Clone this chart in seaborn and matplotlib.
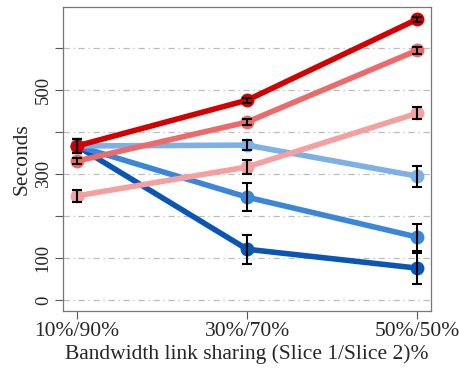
import numpy as np
import pandas as pd
import matplotlib
matplotlib.use("Agg")
import matplotlib.pyplot as plt
import seaborn as sns

# Data
shares = ["10%/90%", "30%/70%", "50%/50%"]
series = ["blue_dark", "blue_mid", "blue_light", "red_light", "red_mid", "red_dark"]
blue_dark = [367, 121, 76]
blue_mid = [367, 245, 150]
blue_light = [367, 369, 295]
red_light = [248, 317, 445]
red_mid = [331, 424, 595]
red_dark = [367, 476, 669]
err_blue_dark = [17, 35, 37]
err_blue_mid = [17, 33, 32]
err_blue_light = [17, 12, 25]
err_red_light = [15, 17, 14]
err_red_mid = [8, 8, 8]
err_red_dark = [17, 6, 6]
yticks = [0, 100, 200, 300, 400, 500, 600]
ytick_labels = ["0", "100", "", "300", "", "500", ""]

colors = {"blue_dark": "#0a56b4", "blue_mid": "#3a86d8", "blue_light": "#7cb0e6",
          "red_light": "#f4a0a0", "red_mid": "#ee6a6a", "red_dark": "#d40000"}

values = [blue_dark, blue_mid, blue_light, red_light, red_mid, red_dark]
errors = [err_blue_dark, err_blue_mid, err_blue_light, err_red_light, err_red_mid, err_red_dark]

rows = []
for name, vals, errs in zip(series, values, errors):
    for i, (v, e) in enumerate(zip(vals, errs)):
        rows.append({"series": name, "x": i, "seconds": v, "err": e})
df = pd.DataFrame(rows)

sns.set_style("white")
plt.rcParams["font.family"] = ["Liberation Serif", "DejaVu Serif"]

fig = plt.figure(figsize=(4.59, 3.68), dpi=100)
ax = fig.add_axes([0.137, 0.155, 0.802, 0.826])

for y in yticks:
    ax.axhline(y, color="#bbbbbb", lw=0.9, ls=(0, (5, 3, 1, 3)), zorder=0)

sns.lineplot(data=df, x="x", y="seconds", hue="series", hue_order=series,
             palette=colors, marker="o", markersize=10, markeredgewidth=0,
             linewidth=4, legend=False, ax=ax)

for name in series:
    d = df[df["series"] == name]
    ax.errorbar(d["x"], d["seconds"], yerr=d["err"], fmt="none", ecolor="black",
                elinewidth=1.5, capsize=3.5, capthick=1.5, zorder=5)

ax.set_xlim(-0.082, 2.08)
ax.set_ylim(-26, 698)
ax.set_xticks(range(len(shares)))
ax.set_xticklabels(shares, fontsize=15.5)
ax.set_yticks(yticks)
ax.set_yticklabels(ytick_labels, fontsize=13.5, rotation=90, va="center")
ax.set_xlabel("Bandwidth link sharing (Slice 1/Slice 2)%", fontsize=15.5, labelpad=2)
ax.set_ylabel("Seconds", fontsize=15.5, labelpad=2)
ax.tick_params(axis="both", direction="out", length=6, width=0.8, color="#555555",
               left=True, bottom=True, pad=2)
for s in ax.spines.values():
    s.set_color("#777777")
    s.set_linewidth(0.9)

fig.savefig("out.png", dpi=100)
